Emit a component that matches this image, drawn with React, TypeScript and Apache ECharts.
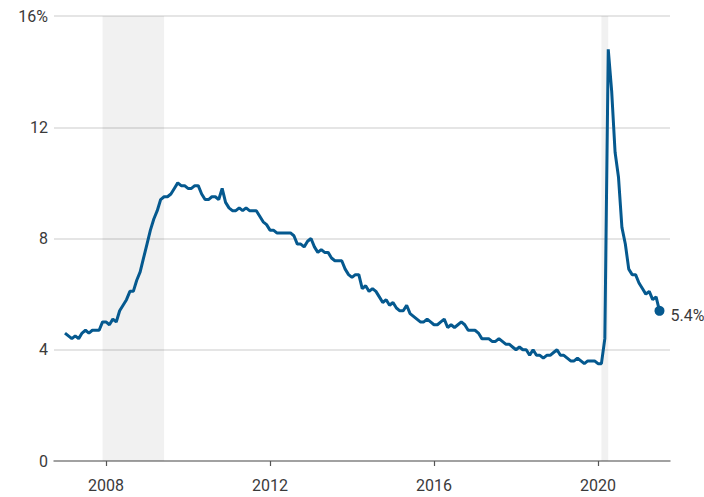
import React, { useEffect, useRef } from "react";
import * as echarts from "echarts";

const START_YEAR = 2007;
const rate2007 = [4.6, 4.5, 4.4, 4.5, 4.4, 4.6, 4.7, 4.6, 4.7, 4.7, 4.7, 5.0];
const rate2008 = [5.0, 4.9, 5.1, 5.0, 5.4, 5.6, 5.8, 6.1, 6.1, 6.5, 6.8, 7.3];
const rate2009 = [7.8, 8.3, 8.7, 9.0, 9.4, 9.5, 9.5, 9.6, 9.8, 10.0, 9.9, 9.9];
const rate2010 = [9.8, 9.8, 9.9, 9.9, 9.6, 9.4, 9.4, 9.5, 9.5, 9.4, 9.8, 9.3];
const rate2011 = [9.1, 9.0, 9.0, 9.1, 9.0, 9.1, 9.0, 9.0, 9.0, 8.8, 8.6, 8.5];
const rate2012 = [8.3, 8.3, 8.2, 8.2, 8.2, 8.2, 8.2, 8.1, 7.8, 7.8, 7.7, 7.9];
const rate2013 = [8.0, 7.7, 7.5, 7.6, 7.5, 7.5, 7.3, 7.2, 7.2, 7.2, 6.9, 6.7];
const rate2014 = [6.6, 6.7, 6.7, 6.2, 6.3, 6.1, 6.2, 6.1, 5.9, 5.7, 5.8, 5.6];
const rate2015 = [5.7, 5.5, 5.4, 5.4, 5.6, 5.3, 5.2, 5.1, 5.0, 5.0, 5.1, 5.0];
const rate2016 = [4.9, 4.9, 5.0, 5.1, 4.8, 4.9, 4.8, 4.9, 5.0, 4.9, 4.7, 4.7];
const rate2017 = [4.7, 4.6, 4.4, 4.4, 4.4, 4.3, 4.3, 4.4, 4.3, 4.2, 4.2, 4.1];
const rate2018 = [4.0, 4.1, 4.0, 4.0, 3.8, 4.0, 3.8, 3.8, 3.7, 3.8, 3.8, 3.9];
const rate2019 = [4.0, 3.8, 3.8, 3.7, 3.6, 3.6, 3.7, 3.6, 3.5, 3.6, 3.6, 3.6];
const rate2020 = [3.5, 3.5, 4.4, 14.8, 13.3, 11.1, 10.2, 8.4, 7.8, 6.9, 6.7, 6.7];
const rate2021 = [6.4, 6.2, 6.0, 6.1, 5.8, 5.9, 5.4];

const recessions = [
  [2007 + 11 / 12, 2009 + 5 / 12],
  [2020 + 1 / 12, 2020 + 3 / 12],
];
const yearTicks = [2008, 2012, 2016, 2020];

const allRates = [
  ...rate2007, ...rate2008, ...rate2009, ...rate2010, ...rate2011,
  ...rate2012, ...rate2013, ...rate2014, ...rate2015, ...rate2016,
  ...rate2017, ...rate2018, ...rate2019, ...rate2020, ...rate2021,
];

export default function App() {
  const ref = useRef<HTMLDivElement>(null);
  useEffect(() => {
    if (!ref.current) return;
    const chart = echarts.init(ref.current, null, { renderer: "svg" });
    const points = allRates.map((v, i) => [START_YEAR + i / 12, v]);
    const last = points[points.length - 1];
    const font = "Roboto, 'Open Sans', sans-serif";
    chart.setOption({
      animation: false,
      grid: { left: 54, right: 34, top: 16, bottom: 36 },
      xAxis: {
        type: "value",
        min: 2006.732,
        max: 2021.756,
        axisLine: { show: true, lineStyle: { color: "#8a8a8a", width: 1.5 } },
        axisTick: {
          show: true,
          customValues: yearTicks,
          length: 5,
          lineStyle: { color: "#555", width: 1.2 },
        },
        axisLabel: {
          customValues: yearTicks,
          color: "#3a3a3a",
          fontSize: 16,
          fontFamily: font,
          margin: 16,
          formatter: (v: number) => String(v),
        },
        splitLine: { show: false },
      },
      yAxis: {
        type: "value",
        min: 0,
        max: 16,
        interval: 4,
        axisLine: { show: false },
        axisTick: { show: false },
        axisLabel: {
          color: "#3a3a3a",
          fontSize: 16,
          fontFamily: font,
          margin: 6,
          formatter: (v: number) => (v === 16 ? "16%" : String(v)),
        },
        splitLine: { lineStyle: { color: "#dcdcdc", width: 1.5 } },
      },
      series: [
        {
          type: "line",
          data: points,
          showSymbol: false,
          lineStyle: { color: "#05598f", width: 3 },
          z: 3,
          markArea: {
            silent: true,
            itemStyle: { color: "rgba(0,0,0,0.055)" },
            data: recessions.map(([a, b]) => [{ xAxis: a }, { xAxis: b }]),
          },
        },
        {
          type: "scatter",
          data: [last],
          symbol: "circle",
          symbolSize: 10,
          clip: false,
          itemStyle: { color: "#05598f", opacity: 1 },
          z: 4,
          label: {
            show: true,
            position: "right",
            distance: 6,
            offset: [0, 5],
            formatter: (p: any) => `${p.value[1]}%`,
            color: "#3a3a3a",
            fontSize: 16,
            fontFamily: font,
          },
        },
      ],
    });
    return () => chart.dispose();
  }, []);
  return (
    <div
      ref={ref}
      style={{ position: "absolute", left: 0, top: 0, width: 704, height: 497 }}
    />
  );
}
